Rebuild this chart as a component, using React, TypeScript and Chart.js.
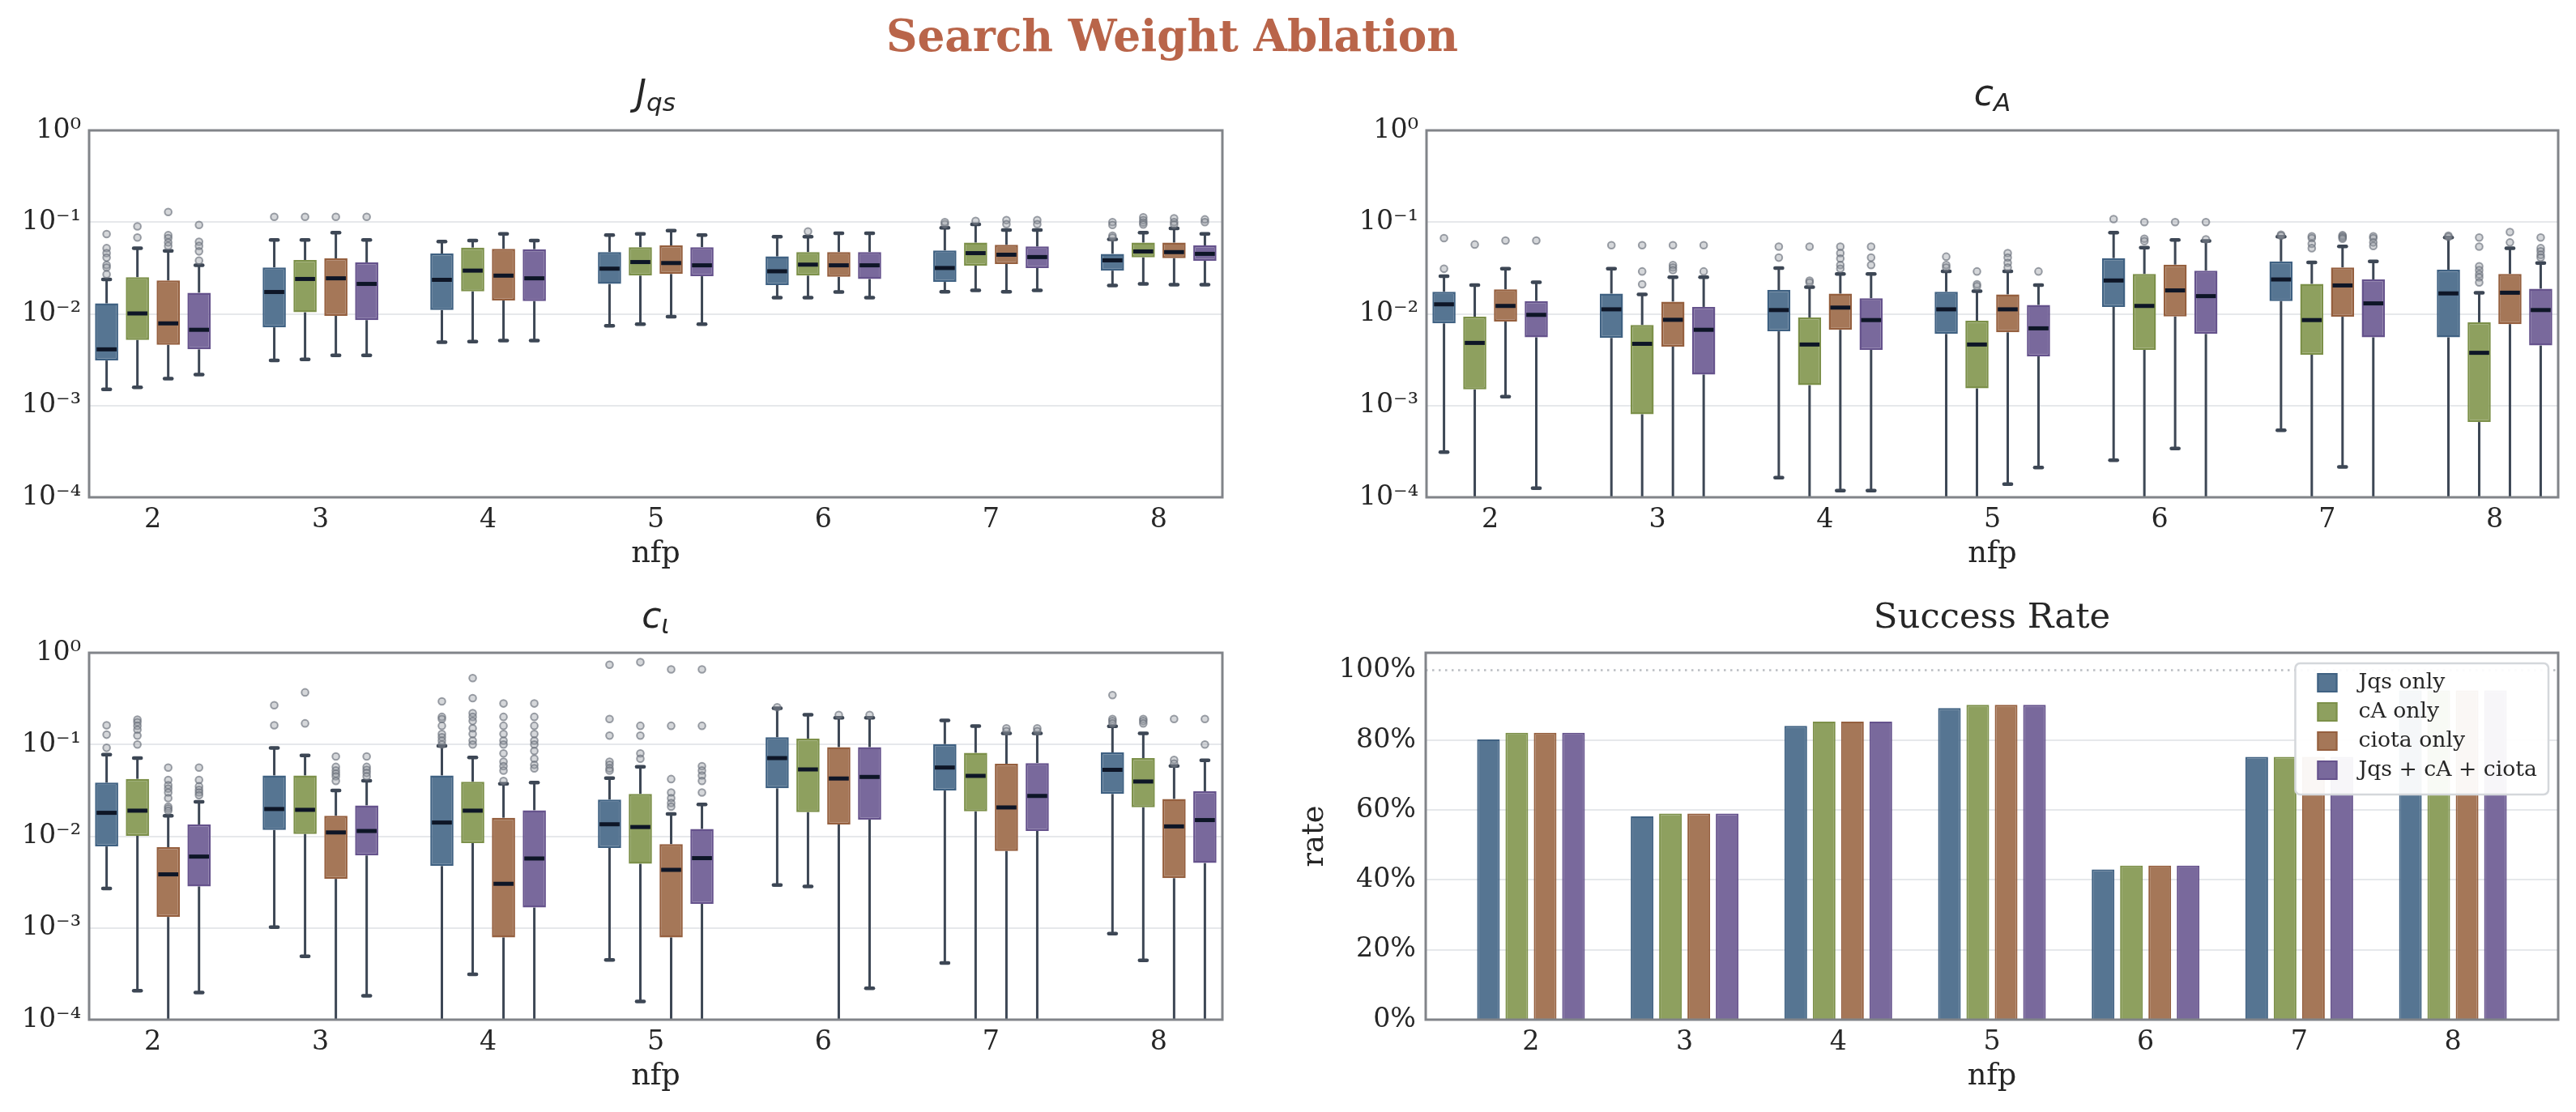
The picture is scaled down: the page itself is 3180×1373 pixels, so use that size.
import React, { useEffect, useRef } from 'react';
import { Chart, registerables } from 'chart.js';

Chart.register(...registerables);

// ---------------- data ----------------
const GROUPS = [2, 3, 4, 5, 6, 7, 8];
const SERIES = ['Jqs only', 'cA only', 'ciota only', 'Jqs + cA + ciota'];
const LOG_TICKS = [1e-4, 1e-3, 1e-2, 1e-1, 1];
const RATE_TICKS = [0, 0.2, 0.4, 0.6, 0.8, 1.0];

// J_qs panel (rows = series, cols = nfp groups)
const JQS_WLO = [
  [0.0015, 0.00311, 0.00491, 0.00742, 0.015, 0.0174, 0.0204],
  [0.00158, 0.00319, 0.00499, 0.00773, 0.015, 0.018, 0.0212],
  [0.00197, 0.00352, 0.00512, 0.0093, 0.0173, 0.0174, 0.0208],
  [0.00218, 0.00352, 0.00512, 0.00773, 0.015, 0.018, 0.0208],
];
const JQS_Q1 = [
  [0.0031, 0.00713, 0.011, 0.0212, 0.0206, 0.0223, 0.0296],
  [0.0052, 0.0104, 0.0176, 0.0261, 0.0261, 0.0335, 0.0412],
  [0.0046, 0.0095, 0.014, 0.0272, 0.0253, 0.0349, 0.0405],
  [0.0041, 0.00855, 0.0138, 0.0257, 0.024, 0.0316, 0.0379],
];
const JQS_MED = [
  [0.0041, 0.0173, 0.0235, 0.0311, 0.0291, 0.0316, 0.0383],
  [0.0101, 0.024, 0.0296, 0.0367, 0.0344, 0.0459, 0.0479],
  [0.00787, 0.0244, 0.0261, 0.0358, 0.0338, 0.0441, 0.0471],
  [0.0067, 0.0212, 0.0244, 0.0338, 0.0338, 0.0416, 0.0451],
];
const JQS_Q3 = [
  [0.013, 0.0321, 0.0455, 0.0471, 0.0423, 0.0491, 0.0451],
  [0.0251, 0.0386, 0.0528, 0.0533, 0.0471, 0.0598, 0.0598],
  [0.0231, 0.0402, 0.0511, 0.0556, 0.0471, 0.0565, 0.0598],
  [0.017, 0.0364, 0.0507, 0.0533, 0.0471, 0.0542, 0.0556],
];
const JQS_WHI = [
  [0.0237, 0.064, 0.0614, 0.0724, 0.0695, 0.0868, 0.065],
  [0.052, 0.064, 0.063, 0.0743, 0.0695, 0.0944, 0.0767],
  [0.0486, 0.0767, 0.0743, 0.0806, 0.0755, 0.082, 0.0855],
  [0.0338, 0.064, 0.063, 0.0724, 0.0755, 0.082, 0.0743],
];
const JQS_OUT = [
  [[0.074, 0.052, 0.046, 0.041, 0.034, 0.032, 0.027], [0.114], [], [], [], [0.095, 0.1], [0.1, 0.093, 0.071, 0.068]],
  [[0.09, 0.068], [0.114], [], [], [0.079], [0.103], [0.113, 0.105, 0.099, 0.094]],
  [[0.129, 0.072, 0.067, 0.06, 0.055], [0.114], [], [], [], [0.105, 0.095], [0.11, 0.1, 0.094]],
  [[0.093, 0.061, 0.055, 0.048, 0.038], [0.114], [], [], [], [0.105, 0.095], [0.107, 0.1]],
];

// c_A panel
const CA_WLO = [
  [0.000311, 5e-5, 0.000164, 5e-5, 0.000253, 0.000537, 5e-5],
  [5e-5, 5e-5, 5e-5, 5e-5, 5e-5, 5e-5, 5e-5],
  [0.00125, 5e-5, 0.000118, 0.000139, 0.00034, 0.000214, 5e-5],
  [0.000126, 5e-5, 0.000118, 0.000211, 5e-5, 5e-5, 5e-5],
];
const CA_Q1 = [
  [0.00787, 0.00546, 0.00645, 0.00604, 0.0119, 0.0138, 0.00555],
  [0.0015, 0.000805, 0.00167, 0.00154, 0.00405, 0.00358, 0.000661],
  [0.00826, 0.0044, 0.0067, 0.00629, 0.00936, 0.0093, 0.00773],
  [0.00555, 0.00218, 0.00405, 0.00344, 0.00604, 0.00555, 0.00452],
];
const CA_MED = [
  [0.0127, 0.0112, 0.011, 0.0112, 0.0231, 0.0237, 0.0167],
  [0.00482, 0.00471, 0.00463, 0.00463, 0.0122, 0.00855, 0.00376],
  [0.0122, 0.00861, 0.0117, 0.0112, 0.018, 0.0204, 0.017],
  [0.00975, 0.0067, 0.00855, 0.00695, 0.0156, 0.013, 0.011],
];
const CA_Q3 = [
  [0.0174, 0.0166, 0.0182, 0.0174, 0.0405, 0.0373, 0.0303],
  [0.0093, 0.00755, 0.00913, 0.0084, 0.0272, 0.0212, 0.00806],
  [0.0185, 0.0136, 0.0166, 0.0163, 0.0344, 0.0321, 0.0272],
  [0.0138, 0.0119, 0.0148, 0.0125, 0.0296, 0.0237, 0.0188],
];
const CA_WHI = [
  [0.0257, 0.0311, 0.0316, 0.0291, 0.0767, 0.0695, 0.0678],
  [0.0206, 0.0163, 0.0196, 0.0177, 0.0528, 0.0364, 0.017],
  [0.0311, 0.0251, 0.0272, 0.0291, 0.0639, 0.0542, 0.052],
  [0.0221, 0.0251, 0.0272, 0.0206, 0.0623, 0.0373, 0.0358],
];
const CA_OUT = [
  [[0.067, 0.031], [0.056], [0.054, 0.041], [0.042, 0.034, 0.032], [0.108], [0.073, 0.071], [0.071, 0.069]],
  [[0.057], [0.056, 0.029, 0.021], [0.054, 0.023, 0.022], [0.029, 0.021, 0.02], [0.1, 0.066, 0.062], [0.07, 0.067, 0.058, 0.052], [0.068, 0.054, 0.033, 0.03, 0.027, 0.025, 0.022]],
  [[0.063], [0.056, 0.034, 0.032, 0.03], [0.054, 0.046, 0.04, 0.034, 0.031], [0.046, 0.041, 0.036, 0.032], [0.1], [0.072, 0.07, 0.068, 0.066], [0.078, 0.06]],
  [[0.063], [0.056, 0.029], [0.054, 0.041, 0.034], [0.029], [0.1, 0.065], [0.07, 0.067, 0.06, 0.055], [0.068, 0.052, 0.048, 0.044, 0.041]],
];

// c_iota panel
const CI_WLO = [
  [0.0027, 0.00102, 5e-5, 0.000447, 0.00294, 0.000414, 0.000867],
  [0.000207, 0.000491, 0.000312, 0.000158, 0.00284, 5e-5, 0.000443],
  [5e-5, 5e-5, 5e-5, 5e-5, 5e-5, 5e-5, 5e-5],
  [0.000198, 0.000182, 5e-5, 5e-5, 0.00022, 5e-5, 5e-5],
];
const CI_Q1 = [
  [0.00774, 0.0117, 0.00473, 0.00745, 0.0333, 0.0315, 0.0289],
  [0.0101, 0.0106, 0.00843, 0.00501, 0.0183, 0.0187, 0.0207],
  [0.00132, 0.00343, 0.000789, 0.000789, 0.0134, 0.00691, 0.00349],
  [0.00284, 0.00617, 0.00167, 0.00183, 0.0152, 0.0114, 0.0051],
];
const CI_MED = [
  [0.018, 0.0198, 0.0141, 0.0135, 0.0711, 0.0561, 0.053],
  [0.019, 0.0194, 0.019, 0.0126, 0.0535, 0.0455, 0.0395],
  [0.00384, 0.011, 0.00303, 0.0043, 0.0426, 0.0206, 0.0128],
  [0.006, 0.0114, 0.00572, 0.00577, 0.0443, 0.0275, 0.015],
];
const CI_Q3 = [
  [0.0384, 0.046, 0.046, 0.0251, 0.12, 0.101, 0.082],
  [0.0422, 0.046, 0.0392, 0.0289, 0.116, 0.0812, 0.0711],
  [0.0076, 0.0167, 0.0159, 0.0082, 0.0936, 0.0617, 0.0255],
  [0.0134, 0.0217, 0.0192, 0.012, 0.0936, 0.0628, 0.0309],
];
const CI_WHI = [
  [0.0774, 0.0918, 0.0964, 0.043, 0.248, 0.183, 0.158],
  [0.0711, 0.076, 0.0724, 0.0572, 0.211, 0.159, 0.132],
  [0.0167, 0.0315, 0.0373, 0.0175, 0.196, 0.132, 0.0582],
  [0.0237, 0.0403, 0.0384, 0.0222, 0.196, 0.132, 0.0672],
];
const CI_OUT = [
  [[0.162, 0.128, 0.092], [0.268, 0.162], [0.295, 0.2, 0.19, 0.16, 0.13, 0.12, 0.11, 0.1], [0.74, 0.19, 0.125, 0.065, 0.06, 0.055, 0.052], [0.255], [], [0.346, 0.19, 0.18, 0.17]],
  [[0.187, 0.175, 0.16, 0.145, 0.125, 0.1], [0.37, 0.17], [0.53, 0.32, 0.22, 0.2, 0.18, 0.15, 0.13, 0.11, 0.1], [0.79, 0.16, 0.125, 0.08, 0.07], [], [], [0.19, 0.18, 0.17]],
  [[0.056, 0.041, 0.036, 0.033, 0.03, 0.026, 0.021, 0.02, 0.019], [0.074, 0.057, 0.052, 0.048, 0.045, 0.04], [0.28, 0.2, 0.16, 0.13, 0.11, 0.1, 0.08, 0.065, 0.058, 0.052, 0.04], [0.66, 0.16, 0.042, 0.03, 0.026, 0.023, 0.021], [0.21], [0.15, 0.14], [0.19, 0.068, 0.062]],
  [[0.056, 0.041, 0.035, 0.032, 0.03, 0.028], [0.074, 0.057, 0.053, 0.049, 0.045], [0.28, 0.2, 0.16, 0.13, 0.11, 0.1, 0.085, 0.07, 0.06, 0.055], [0.66, 0.16, 0.058, 0.052, 0.046, 0.04, 0.03], [0.21], [0.15, 0.14], [0.19, 0.1]],
];

// success rate panel
const RATE = [
  [0.802, 0.582, 0.841, 0.892, 0.43, 0.752, 0.942],
  [0.821, 0.59, 0.853, 0.901, 0.441, 0.752, 0.942],
  [0.821, 0.59, 0.853, 0.901, 0.441, 0.752, 0.942],
  [0.821, 0.59, 0.853, 0.901, 0.441, 0.752, 0.942],
];

// ---------------- styles ----------------
const SERIF = "'DejaVu Serif', serif";
const MATH = "'DejaVu Sans', sans-serif";
const FILL = ['#567592', '#8ea05f', '#a57758', '#79699c'];
const EDGE = ['#3f6182', '#7c9049', '#955f3e', '#65528c'];
const TEXT = '#262626';
const GRID = '#e6e8eb';
const FRAME = '#818489';
const WHISKER = '#3d4755';
const MEDIAN = '#0e1627';

type Rect = { left: number; top: number; width: number; height: number };
type Area = { l: number; t: number; r: number; b: number };
type Panel = { rect: Rect; area: Area };

const PANELS: Record<string, Panel> = {
  tl: { rect: { left: 0, top: 70, width: 1590, height: 655 }, area: { l: 110, t: 161, r: 1509, b: 614 } },
  tr: { rect: { left: 1590, top: 70, width: 1590, height: 655 }, area: { l: 1761, t: 161, r: 3158, b: 614 } },
  bl: { rect: { left: 0, top: 725, width: 1590, height: 648 }, area: { l: 110, t: 806, r: 1509, b: 1259 } },
  br: { rect: { left: 1590, top: 725, width: 1590, height: 648 }, area: { l: 1760, t: 806, r: 3158, b: 1259 } },
};

const SUP: Record<string, string> = { '-': '\u207B', '0': '\u2070', '1': '\u00B9', '2': '\u00B2', '3': '\u00B3', '4': '\u2074' };
const sup = (v: number) => '10' + String(Math.round(Math.log10(v))).split('').map((c) => SUP[c] || c).join('');

function fit(p: Panel) {
  return {
    padTop: p.area.t - p.rect.top,
    padRight: p.rect.left + p.rect.width - p.area.r,
    yWidth: p.area.l - p.rect.left,
    xHeight: p.rect.top + p.rect.height - p.area.b,
  };
}

function seg(ctx: CanvasRenderingContext2D, x1: number, y1: number, x2: number, y2: number) {
  ctx.beginPath();
  ctx.moveTo(x1, y1);
  ctx.lineTo(x2, y2);
  ctx.stroke();
}

function clipArea(ctx: CanvasRenderingContext2D, a: any) {
  ctx.beginPath();
  ctx.rect(a.left, a.top, a.right - a.left, a.bottom - a.top);
  ctx.clip();
}

type Stats = { wlo: number[][]; q1: number[][]; med: number[][]; q3: number[][]; whi: number[][]; out: number[][][] };

const boxPartsPlugin = (st: Stats) => ({
  id: 'boxParts',
  beforeDatasetsDraw(chart: any) {
    const { ctx, chartArea: a } = chart;
    const ys = chart.scales.y;
    ctx.save();
    clipArea(ctx, a);
    ctx.strokeStyle = WHISKER;
    SERIES.forEach((_, i) => {
      chart.getDatasetMeta(i).data.forEach((el: any, j: number) => {
        const x = el.x;
        const w = el.width;
        const hi = ys.getPixelForValue(st.whi[i][j]);
        const q3 = ys.getPixelForValue(st.q3[i][j]);
        const q1 = ys.getPixelForValue(st.q1[i][j]);
        const lo = ys.getPixelForValue(st.wlo[i][j]);
        ctx.lineWidth = 3;
        ctx.lineCap = 'butt';
        seg(ctx, x, q3, x, hi);
        seg(ctx, x, q1, x, lo);
        ctx.lineWidth = 4.5;
        ctx.lineCap = 'round';
        const cw = w * 0.16;
        seg(ctx, x - cw, hi, x + cw, hi);
        seg(ctx, x - cw, lo, x + cw, lo);
      });
    });
    ctx.restore();
  },
  afterDatasetsDraw(chart: any) {
    const { ctx, chartArea: a } = chart;
    const ys = chart.scales.y;
    ctx.save();
    clipArea(ctx, a);
    SERIES.forEach((_, i) => {
      chart.getDatasetMeta(i).data.forEach((el: any, j: number) => {
        const x = el.x;
        const w = el.width;
        const m = ys.getPixelForValue(st.med[i][j]);
        ctx.strokeStyle = MEDIAN;
        ctx.lineWidth = 5;
        ctx.lineCap = 'butt';
        seg(ctx, x - w / 2 + 2, m, x + w / 2 - 2, m);
        st.out[i][j].forEach((v) => {
          const py = ys.getPixelForValue(v);
          ctx.beginPath();
          ctx.arc(x, py, 4.3, 0, Math.PI * 2);
          ctx.fillStyle = 'rgba(150,155,163,0.4)';
          ctx.fill();
          ctx.lineWidth = 2;
          ctx.strokeStyle = 'rgba(105,111,122,0.65)';
          ctx.stroke();
        });
      });
    });
    ctx.restore();
  },
});

const framePlugin = {
  id: 'frame',
  afterDraw(chart: any) {
    const { ctx, chartArea: a } = chart;
    ctx.save();
    ctx.strokeStyle = FRAME;
    ctx.lineWidth = 3;
    ctx.strokeRect(a.left, a.top, a.right - a.left, a.bottom - a.top);
    ctx.restore();
  },
};

const titlePlugin = (main: string, sub: string | null) => ({
  id: 'panelTitle',
  afterDraw(chart: any) {
    const { ctx, chartArea: a } = chart;
    const cx = (a.left + a.right) / 2;
    const base = a.top - 31;
    ctx.save();
    ctx.fillStyle = TEXT;
    ctx.textBaseline = 'alphabetic';
    if (sub === null) {
      ctx.font = `43.3px ${SERIF}`;
      ctx.textAlign = 'center';
      ctx.fillText(main, cx, base);
    } else {
      const mf = `italic 44px ${MATH}`;
      const sf = `italic 31px ${MATH}`;
      ctx.textAlign = 'left';
      ctx.font = mf;
      const mw = ctx.measureText(main).width;
      ctx.font = sf;
      const sw = ctx.measureText(sub).width;
      const x0 = cx - (mw + sw) / 2;
      ctx.font = mf;
      ctx.fillText(main, x0, base);
      ctx.font = sf;
      ctx.fillText(sub, x0 + mw, base + 7);
    }
    ctx.restore();
  },
});

const refLinePlugin = {
  id: 'refLine',
  beforeDatasetsDraw(chart: any) {
    const { ctx, chartArea: a } = chart;
    const y = chart.scales.y.getPixelForValue(1.0);
    ctx.save();
    ctx.strokeStyle = '#b9bdc2';
    ctx.lineWidth = 2.5;
    ctx.setLineDash([2.5, 5.5]);
    seg(ctx, a.left, y, a.right, y);
    ctx.restore();
  },
};

const legendPlugin = {
  id: 'rateLegend',
  afterDatasetsDraw(chart: any) {
    const { ctx, chartArea: a } = chart;
    ctx.save();
    ctx.font = `26.7px ${SERIF}`;
    const tw = Math.max(...SERIES.map((s) => ctx.measureText(s).width));
    const right = a.right - 12;
    const top = a.top + 13;
    const w = 78 + tw + 14;
    const h = 162;
    const left = right - w;
    const r = 6;
    ctx.beginPath();
    ctx.moveTo(left + r, top);
    ctx.lineTo(right - r, top);
    ctx.arcTo(right, top, right, top + r, r);
    ctx.lineTo(right, top + h - r);
    ctx.arcTo(right, top + h, right - r, top + h, r);
    ctx.lineTo(left + r, top + h);
    ctx.arcTo(left, top + h, left, top + h - r, r);
    ctx.lineTo(left, top + r);
    ctx.arcTo(left, top, left + r, top, r);
    ctx.closePath();
    ctx.fillStyle = 'rgba(255,255,255,0.94)';
    ctx.fill();
    ctx.strokeStyle = '#d4d7db';
    ctx.lineWidth = 2.5;
    ctx.stroke();
    SERIES.forEach((s, i) => {
      const cy = top + 24 + i * 36;
      ctx.fillStyle = FILL[i];
      ctx.fillRect(left + 27, cy - 12, 25, 24);
      ctx.strokeStyle = EDGE[i];
      ctx.lineWidth = 2;
      ctx.strokeRect(left + 28, cy - 11, 23, 22);
      ctx.fillStyle = TEXT;
      ctx.textAlign = 'left';
      ctx.textBaseline = 'middle';
      ctx.fillText(s, left + 78, cy);
    });
    ctx.restore();
  },
};

function xAxis(f: any, min: number, max: number) {
  return {
    type: 'linear',
    min,
    max,
    offset: false,
    afterBuildTicks: (s: any) => {
      s.ticks = GROUPS.map((v) => ({ value: v }));
    },
    afterFit: (s: any) => {
      s.height = f.xHeight;
    },
    ticks: { color: TEXT, font: { family: SERIF, size: 33.3 }, padding: 8, maxRotation: 0, autoSkip: false, callback: (v: any) => String(v) },
    grid: { display: false, drawTicks: false },
    border: { display: false },
    title: { display: true, text: 'nfp', color: TEXT, font: { family: SERIF, size: 36.7 }, padding: { top: 0, bottom: f.xHeight - 70 - 22 } },
  };
}

function buildBox(canvas: HTMLCanvasElement, st: Stats, main: string, sub: string, p: Panel) {
  const f = fit(p);
  return new Chart(canvas, {
    type: 'bar',
    data: {
      datasets: SERIES.map((name, i) => ({
        label: name,
        data: GROUPS.map((g, j) => ({ x: g, y: [st.q1[i][j], st.q3[i][j]] })),
        backgroundColor: FILL[i],
        borderColor: EDGE[i],
        borderWidth: 2.5,
        borderSkipped: false,
        categoryPercentage: 0.735,
        barPercentage: 0.753,
      })),
    } as any,
    options: {
      responsive: false,
      animation: false,
      devicePixelRatio: 1,
      events: [],
      layout: { padding: { top: f.padTop, right: f.padRight, left: 0, bottom: 0 } },
      scales: {
        x: xAxis(f, 1.62, 8.38),
        y: {
          type: 'logarithmic',
          min: 1e-4,
          max: 1,
          afterBuildTicks: (s: any) => {
            s.ticks = LOG_TICKS.map((v) => ({ value: v }));
          },
          afterFit: (s: any) => {
            s.width = f.yWidth;
          },
          ticks: { color: TEXT, font: { family: SERIF, size: 33.3 }, padding: 10, callback: (v: any) => sup(Number(v)) },
          grid: { color: GRID, lineWidth: 2, drawTicks: false },
          border: { display: false },
        },
      },
      plugins: { legend: { display: false }, tooltip: { enabled: false }, title: { display: false } },
    } as any,
    plugins: [boxPartsPlugin(st), framePlugin, titlePlugin(main, sub)],
  });
}

function buildRate(canvas: HTMLCanvasElement, p: Panel) {
  const f = fit(p);
  return new Chart(canvas, {
    type: 'bar',
    data: {
      datasets: SERIES.map((name, i) => ({
        label: name,
        data: GROUPS.map((g, j) => ({ x: g, y: RATE[i][j] })),
        backgroundColor: FILL[i],
        borderColor: EDGE[i],
        borderWidth: 2,
        categoryPercentage: 0.738,
        barPercentage: 0.8,
      })),
    } as any,
    options: {
      responsive: false,
      animation: false,
      devicePixelRatio: 1,
      events: [],
      layout: { padding: { top: f.padTop, right: f.padRight, left: 0, bottom: 0 } },
      scales: {
        x: xAxis(f, 1.315, 8.685),
        y: {
          type: 'linear',
          min: 0,
          max: 1.05,
          afterBuildTicks: (s: any) => {
            s.ticks = RATE_TICKS.map((v) => ({ value: v }));
          },
          afterFit: (s: any) => {
            s.width = f.yWidth;
          },
          ticks: { color: TEXT, font: { family: SERIF, size: 33.3 }, padding: 12, callback: (v: any) => `${Math.round(Number(v) * 100)}%` },
          grid: {
            color: (c: any) => (c.tick && Math.abs(c.tick.value - 1) < 1e-9 ? 'rgba(0,0,0,0)' : GRID),
            lineWidth: 2,
            drawTicks: false,
          },
          border: { display: false },
          title: { display: true, text: 'rate', color: TEXT, font: { family: SERIF, size: 36.7 }, padding: { top: 11, bottom: 0 } },
        },
      },
      plugins: { legend: { display: false }, tooltip: { enabled: false }, title: { display: false } },
    } as any,
    plugins: [refLinePlugin, legendPlugin, framePlugin, titlePlugin('Success Rate', null)],
  });
}

function ChartCanvas({ rect, build }: { rect: Rect; build: (c: HTMLCanvasElement) => Chart }) {
  const ref = useRef<HTMLCanvasElement>(null);
  useEffect(() => {
    const chart = build(ref.current as HTMLCanvasElement);
    return () => chart.destroy();
  }, []);
  return (
    <canvas
      ref={ref}
      width={rect.width}
      height={rect.height}
      style={{ position: 'absolute', left: rect.left, top: rect.top, width: rect.width, height: rect.height }}
    />
  );
}

const JQS: Stats = { wlo: JQS_WLO, q1: JQS_Q1, med: JQS_MED, q3: JQS_Q3, whi: JQS_WHI, out: JQS_OUT };
const CA: Stats = { wlo: CA_WLO, q1: CA_Q1, med: CA_MED, q3: CA_Q3, whi: CA_WHI, out: CA_OUT };
const CI: Stats = { wlo: CI_WLO, q1: CI_Q1, med: CI_MED, q3: CI_Q3, whi: CI_WHI, out: CI_OUT };

export default function App() {
  return (
    <div style={{ position: 'fixed', left: 0, top: 0, width: 3180, height: 1373, background: '#ffffff', overflow: 'hidden' }}>
      <div
        style={{
          position: 'absolute',
          left: 0,
          width: 2894,
          top: 18,
          textAlign: 'center',
          font: `bold 53.3px ${SERIF}`,
          lineHeight: '53.3px',
          color: '#b9654a',
          whiteSpace: 'nowrap',
        }}
      >
        Search Weight Ablation
      </div>
      <ChartCanvas rect={PANELS.tl.rect} build={(c) => buildBox(c, JQS, 'J', 'qs', PANELS.tl)} />
      <ChartCanvas rect={PANELS.tr.rect} build={(c) => buildBox(c, CA, 'c', 'A', PANELS.tr)} />
      <ChartCanvas rect={PANELS.bl.rect} build={(c) => buildBox(c, CI, 'c', '\u03B9', PANELS.bl)} />
      <ChartCanvas rect={PANELS.br.rect} build={(c) => buildRate(c, PANELS.br)} />
    </div>
  );
}
